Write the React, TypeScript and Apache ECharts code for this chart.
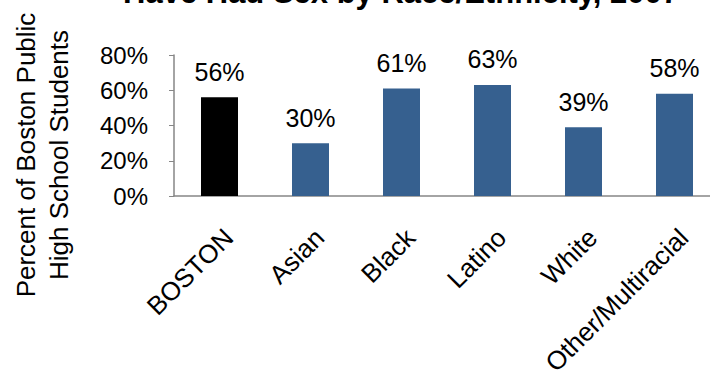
import React, { useEffect, useRef } from "react";
import * as echarts from "echarts";

const categories = ["BOSTON", "Asian", "Black", "Latino", "White", "Other/Multiracial"];
const values = [56, 30, 61, 63, 39, 58];
const barColors = ["#000000", "#36608F", "#36608F", "#36608F", "#36608F", "#36608F"];
const titleText = "Have Had Sex by Race/Ethnicity, 2007";
const yAxisLines = ["Percent of Boston Public", "High School Students"];

export default function App() {
  const ref = useRef<HTMLDivElement>(null);
  useEffect(() => {
    if (!ref.current) return;
    const chart = echarts.init(ref.current, null, { renderer: "svg" });
    const font = "'Liberation Sans', Arial, sans-serif";
    chart.setOption({
      animation: false,
      textStyle: { fontFamily: font },
      grid: {
        left: 174,
        top: 55,
        height: 141,
        width: 546,
        containLabel: false,
        outerBoundsMode: "none",
      },
      xAxis: {
        type: "category",
        data: categories,
        axisLine: { lineStyle: { color: "#868686", width: 1.5 } },
        axisTick: { show: false },
        axisLabel: {
          rotate: 45,
          fontSize: 26,
          color: "#000",
          margin: 28,
          fontFamily: font,
          interval: 0,
          align: "right",
          verticalAlign: "top",
        },
      },
      yAxis: {
        type: "value",
        min: 0,
        max: 80,
        interval: 20,
        splitLine: { show: false },
        axisLine: { show: true, lineStyle: { color: "#868686", width: 1.5 } },
        axisTick: { show: true, length: 5, inside: false, lineStyle: { color: "#868686" } },
        axisLabel: { formatter: "{value}%", fontSize: 24, color: "#000", margin: 26, fontFamily: font },
      },
      series: [
        {
          type: "bar",
          data: values.map((v, i) => ({ value: v, itemStyle: { color: barColors[i] } })),
          barWidth: 37,
          label: {
            show: true,
            position: "top",
            distance: 13,
            formatter: "{c}%",
            fontSize: 25,
            color: "#000",
            fontFamily: font,
          },
        },
      ],
      graphic: [
        {
          type: "text",
          x: 401,
          y: -23,
          style: {
            text: titleText,
            font: `bold 31px ${font}`,
            fill: "#000",
            align: "center",
            verticalAlign: "top",
          },
        },
        {
          type: "text",
          x: 42,
          y: 155,
          rotation: Math.PI / 2,
          style: {
            text: yAxisLines.join("\n"),
            font: `26px ${font}`,
            fill: "#000",
            align: "center",
            verticalAlign: "middle",
            lineHeight: 33,
          },
        },
      ],
    });
    return () => chart.dispose();
  }, []);
  return (
    <div
      ref={ref}
      style={{ position: "absolute", left: 0, top: 0, width: 710, height: 370 }}
    />
  );
}
